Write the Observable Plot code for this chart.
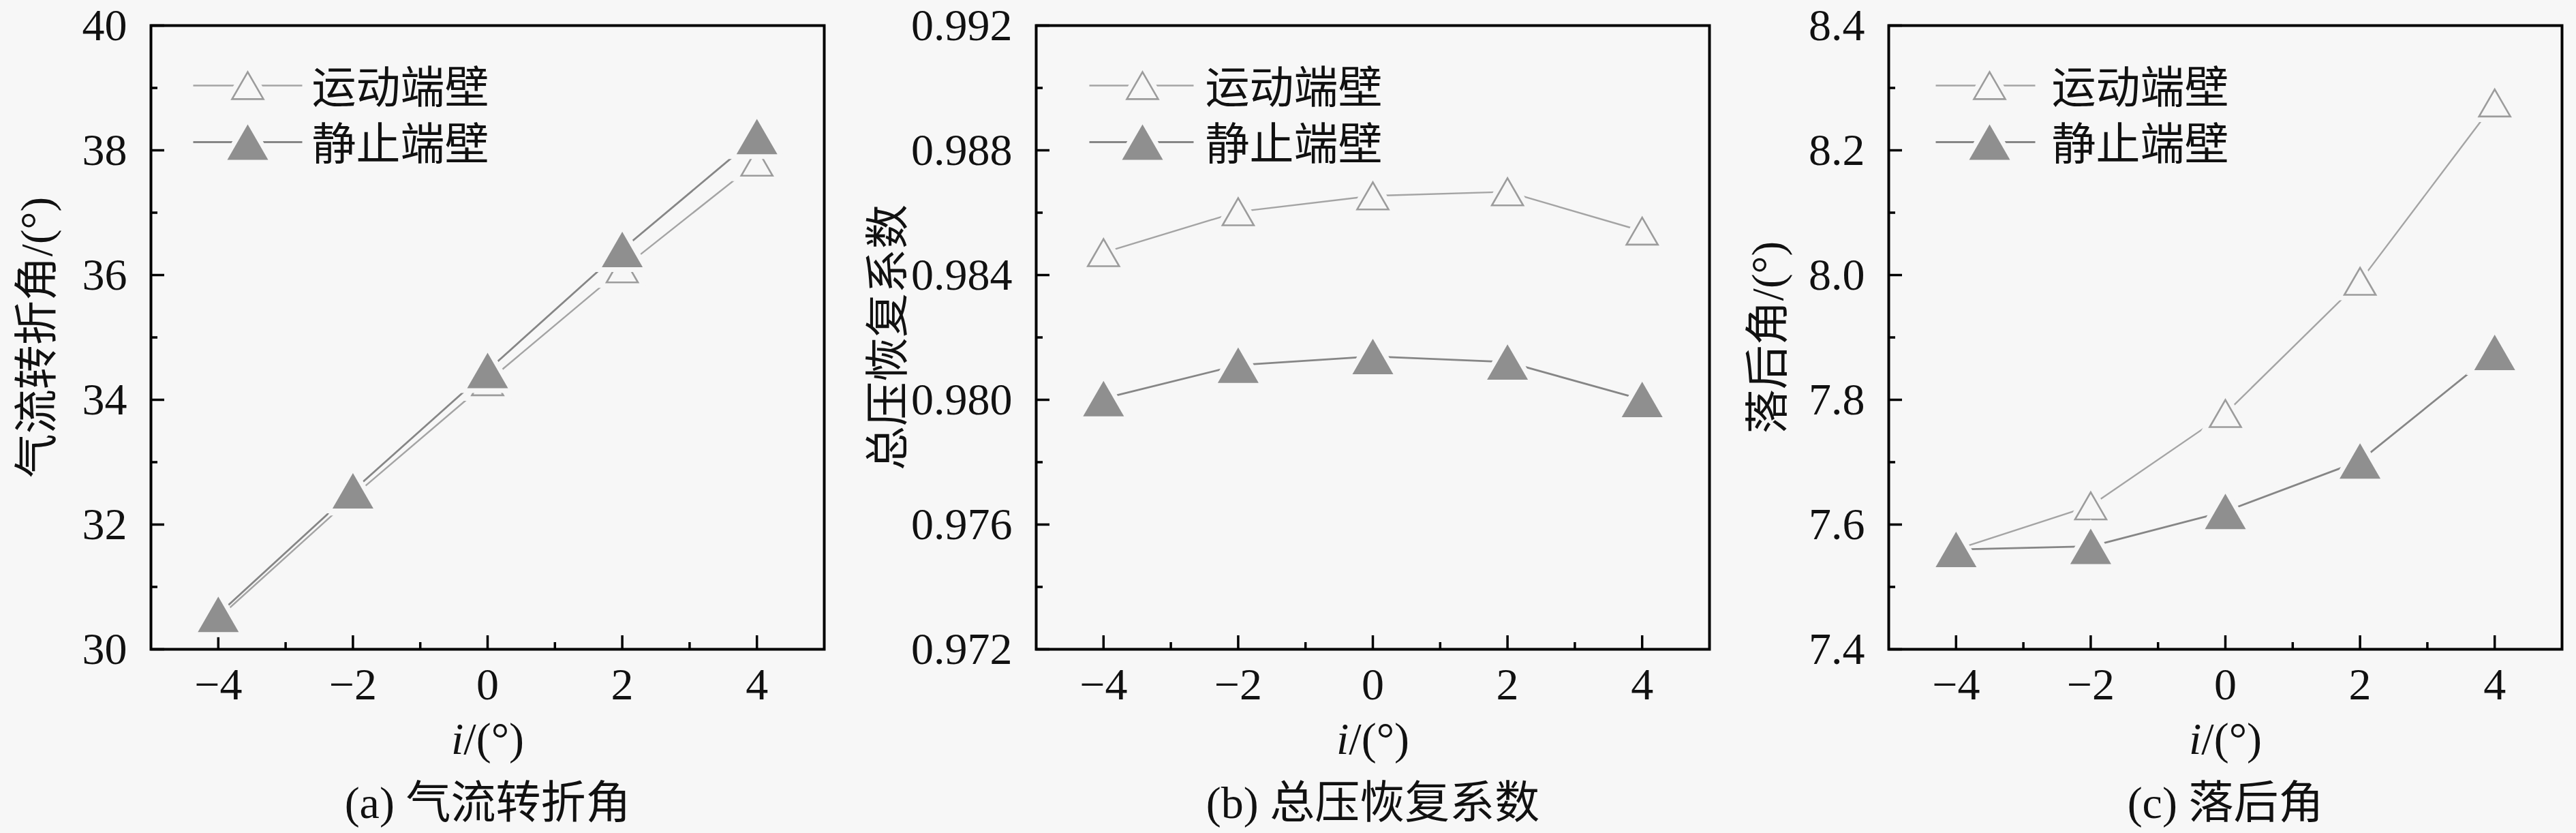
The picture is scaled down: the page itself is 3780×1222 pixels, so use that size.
<!DOCTYPE html>
<html>
<head>
<meta charset="utf-8">
<script src="https://cdn.jsdelivr.net/npm/d3@7"></script>
<script src="https://cdn.jsdelivr.net/npm/@observablehq/plot@0.6"></script>
<style>
  html, body { margin: 0; padding: 0; background: #f7f7f7; }
  #row { display: flex; width: 3780px; height: 1222px; }
  #row svg { background: transparent; }
</style>
</head>
<body>
<div id="row"></div>
<script>
// ---------------- data ----------------
const incidence = [-4, -2, 0, 2, 4];
const seriesNames = ["运动端壁", "静止端壁"];

const turningMoving = [30.50, 32.45, 34.29, 36.10, 37.81];
const turningStatic = [30.56, 32.54, 34.47, 36.41, 38.22];

const recoveryMoving = [0.98472, 0.98603, 0.98654, 0.98667, 0.98541];
const recoveryStatic = [0.98004, 0.98111, 0.98139, 0.98121, 0.98001];

const deviationMoving = [7.560, 7.630, 7.778, 7.990, 8.276];
const deviationStatic = [7.560, 7.565, 7.621, 7.702, 7.876];

const xMajor = [-4, -2, 0, 2, 4];
const xMinor = [-3, -1, 1, 3];
const yMajorA = [30, 32, 34, 36, 38, 40];
const yMinorA = [31, 33, 35, 37, 39];
const yMajorB = [0.972, 0.976, 0.980, 0.984, 0.988, 0.992];
const yMinorB = [0.974, 0.978, 0.982, 0.986, 0.990];
const yMajorC = [7.4, 7.6, 7.8, 8.0, 8.2, 8.4];
const yMinorC = [7.5, 7.7, 7.9, 8.1, 8.3];

const yLabels = ["气流转折角/(°)", "总压恢复系数", "落后角/(°)"];
const xLabel = "i/(°)";
const captions = ["(a) 气流转折角", "(b) 总压恢复系数", "(c) 落后角"];

// ---------------- styling ----------------
const BG = "#f7f7f7";
const openStroke = "#9c9c9c";
const openLine = "#a4a4a4";
const fillColor = "#8f8f8f";
const fillLine = "#868686";
const FONT = "'Liberation Serif', 'Times New Roman', Times, 'Noto Sans CJK SC', serif";

// triangle centred on its bounding box; side = 2r
const triangle = {
  draw(ctx, size) {
    const r = Math.sqrt(size / Math.PI);
    const s = 2 * r, h = s * Math.sqrt(3) / 2;
    ctx.moveTo(0, -h / 2);
    ctx.lineTo(s / 2, h / 2);
    ctx.lineTo(-s / 2, h / 2);
    ctx.closePath();
  }
};
const hline = (len) => ({
  draw(ctx) { ctx.moveTo(-len / 2, 0); ctx.lineTo(len / 2, 0); }
});

const W = 1260, H = 1222, MT = 37, MB = 270;
const innerW = 988, innerH = H - MT - MB;

function panel(cfg) {
  const moving = incidence.map((x, i) => ({x, y: cfg.moving[i]}));
  const stat = incidence.map((x, i) => ({x, y: cfg.stat[i]}));
  const mR = W - cfg.mL - innerW;
  const lg = cfg.legend;
  const lineLen = lg.line1 - lg.line0;
  const lineMid = (lg.line0 + lg.line1) / 2;
  const rows = [88, 171];
  const txt = {x: null, y: null, text: d => d, fill: "#111", fontFamily: FONT};
  const legendMarks = [
    Plot.dot([0], {x: null, y: null, frameAnchor: "top-left", dx: lineMid, dy: rows[0], symbol: hline(lineLen), r: 1, fill: "none", stroke: openLine, strokeWidth: 2.4}),
    Plot.dot([0], {x: null, y: null, frameAnchor: "top-left", dx: lg.tri, dy: rows[0], symbol: triangle, r: 23, fill: BG, stroke: BG, strokeWidth: 16}),
    Plot.dot([0], {x: null, y: null, frameAnchor: "top-left", dx: lg.tri, dy: rows[0], symbol: triangle, r: 23, fill: BG, stroke: openStroke, strokeWidth: 2.6}),
    Plot.text([seriesNames[0]], {...txt, frameAnchor: "top-left", dx: lg.text, dy: rows[0] + 5, textAnchor: "start", lineAnchor: "middle", fontSize: 65}),
    Plot.dot([0], {x: null, y: null, frameAnchor: "top-left", dx: lineMid, dy: rows[1], symbol: hline(lineLen), r: 1, fill: "none", stroke: fillLine, strokeWidth: 2.8}),
    Plot.dot([0], {x: null, y: null, frameAnchor: "top-left", dx: lg.tri, dy: rows[1], symbol: triangle, r: 30, fill: BG, stroke: BG, strokeWidth: 14}),
    Plot.dot([0], {x: null, y: null, frameAnchor: "top-left", dx: lg.tri, dy: rows[1], symbol: triangle, r: 30, fill: fillColor, stroke: "none"}),
    Plot.text([seriesNames[1]], {...txt, frameAnchor: "top-left", dx: lg.text, dy: rows[1] + 5, textAnchor: "start", lineAnchor: "middle", fontSize: 65})
  ];
  const svg = Plot.plot({
    width: W, height: H,
    marginTop: MT, marginBottom: MB, marginLeft: cfg.mL, marginRight: mR,
    style: {fontFamily: FONT, fontSize: "66px", color: "#111", background: "transparent", overflow: "visible"},
    x: {domain: [-5, 5]},
    y: {domain: cfg.domain},
    marks: [
      Plot.axisX(xMajor, {tickSize: 0, tickPadding: 27, tickFormat: d3.format("d"), label: null, fill: "#111", fontFamily: FONT}),
      Plot.axisY(cfg.yMajor, {tickSize: 0, tickPadding: 35, tickFormat: cfg.fmt, label: null, fill: "#111", fontFamily: FONT}),
      Plot.tickY(cfg.yMajor, {y: d => d, insetRight: innerW - 20, stroke: "black", strokeWidth: 3.5}),
      Plot.tickY(cfg.yMinor, {y: d => d, insetRight: innerW - 10, stroke: "black", strokeWidth: 3.5}),
      Plot.tickX(xMajor, {x: d => d, insetTop: innerH - 20, stroke: "black", strokeWidth: 3.5}),
      Plot.tickX(xMinor, {x: d => d, insetTop: innerH - 10, stroke: "black", strokeWidth: 3.5}),
      Plot.line(moving, {x: "x", y: "y", stroke: openLine, strokeWidth: 2.4}),
      Plot.line(stat, {x: "x", y: "y", stroke: fillLine, strokeWidth: 2.8}),
      Plot.dot(moving, {x: "x", y: "y", symbol: triangle, r: 23, fill: BG, stroke: BG, strokeWidth: 16}),
      Plot.dot(moving, {x: "x", y: "y", symbol: triangle, r: 23, fill: BG, stroke: openStroke, strokeWidth: 2.6}),
      Plot.dot(stat, {x: "x", y: "y", symbol: triangle, r: 30, fill: BG, stroke: BG, strokeWidth: 14}),
      Plot.dot(stat, {x: "x", y: "y", symbol: triangle, r: 30, fill: fillColor, stroke: "none"}),
      ...legendMarks,
      Plot.frame({stroke: "black", strokeWidth: 4}),
      Plot.text([cfg.yLabel], {...txt, frameAnchor: "left", dx: cfg.yLabelDx, rotate: -90, textAnchor: "middle", lineAnchor: "middle", fontSize: 65}),
      Plot.text([xLabel], {...txt, frameAnchor: "bottom", dy: 132, textAnchor: "middle", lineAnchor: "middle", fontSize: 66}),
      Plot.text([cfg.caption], {...txt, frameAnchor: "bottom", dy: 226, textAnchor: "middle", lineAnchor: "middle", fontSize: 66})
    ]
  });
  d3.select(svg).selectAll("text").style("font-family", FONT);
  d3.select(svg).selectAll("text").filter(function () { return this.textContent === xLabel; })
    .each(function () {
      const t = d3.select(this);
      t.text(null);
      t.append("tspan").attr("font-style", "italic").text("i");
      t.append("tspan").text("/(°)");
    });
  return svg;
}

const row = document.getElementById("row");
row.appendChild(panel({
  moving: turningMoving, stat: turningStatic, domain: [30, 40],
  yMajor: yMajorA, yMinor: yMinorA, fmt: d3.format("d"),
  mL: 221, yLabel: yLabels[0], yLabelDx: -166, caption: captions[0],
  legend: {line0: 62, line1: 222, tri: 142, text: 236}
}));
row.appendChild(panel({
  moving: recoveryMoving, stat: recoveryStatic, domain: [0.972, 0.992],
  yMajor: yMajorB, yMinor: yMinorB, fmt: d3.format(".3f"),
  mL: 260, yLabel: yLabels[1], yLabelDx: -216, caption: captions[1],
  legend: {line0: 78, line1: 231, tri: 156, text: 248}
}));
row.appendChild(panel({
  moving: deviationMoving, stat: deviationStatic, domain: [7.4, 8.4],
  yMajor: yMajorC, yMinor: yMinorC, fmt: d3.format(".1f"),
  mL: 251, yLabel: yLabels[2], yLabelDx: -176, caption: captions[2],
  legend: {line0: 69, line1: 215, tri: 148, text: 239}
}));
</script>
</body>
</html>
